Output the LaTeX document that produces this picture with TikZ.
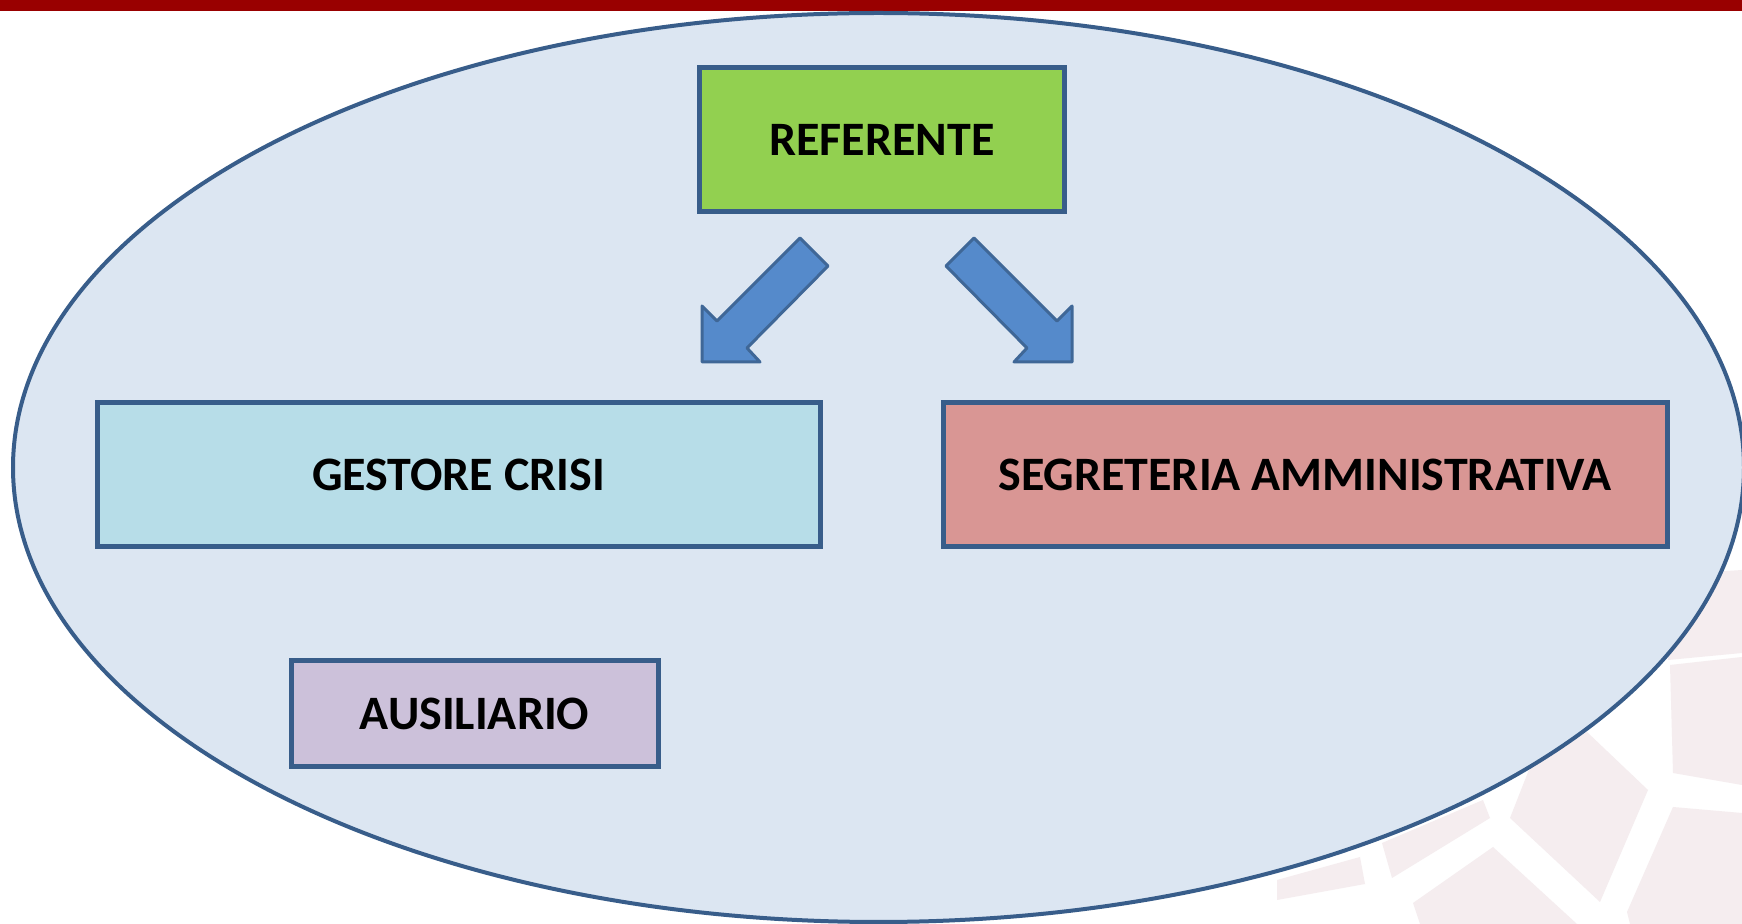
\documentclass[tikz,border=0pt]{standalone}
\usepackage{fontspec}
\setmainfont{Carlito}
\definecolor{barred}{HTML}{990000}
\definecolor{ellfill}{HTML}{DCE6F2}
\definecolor{edge}{HTML}{385D8A}
\definecolor{refgreen}{HTML}{92D050}
\definecolor{gestblue}{HTML}{B7DDE8}
\definecolor{segred}{HTML}{D99694}
\definecolor{auspurple}{HTML}{CCC1DA}
\definecolor{arrowfill}{HTML}{558ACB}
\definecolor{arrowedge}{HTML}{3F6797}
\definecolor{tile}{HTML}{F5EDEF}
\tikzset{
  rolebox/.style={draw=edge, line width=2.5pt, inner sep=0pt, align=center,
    font=\fontsize{24}{28}\selectfont\bfseries, text=black},
  blockarrow/.style={fill=arrowfill, draw=arrowedge, line width=1.5pt, line join=round},
  wmtile/.style={fill=tile, draw=none}
}
\begin{document}
\begin{tikzpicture}[x=0.5pt,y=-0.5pt]
\useasboundingbox (0,0) rectangle (1742,924);
\clip (0,0) rectangle (1742,924);
\fill[white] (0,0) rectangle (1742,924);
% watermark tiles
\fill[wmtile] (1665,575) -- (1742,570) -- (1742,653) -- (1668,660) -- cycle;
\fill[wmtile] (1670,665) -- (1742,657) -- (1742,785) -- (1673,773) -- cycle;
\fill[wmtile] (1530,767) -- (1587,732) -- (1648,790) -- (1600,902) -- (1510,818) -- cycle;
\fill[wmtile] (1673,807) -- (1742,813) -- (1742,924) -- (1630,924) -- (1627,912) -- cycle;
\fill[wmtile] (1413,903) -- (1493,847) -- (1577,924) -- (1420,924) -- cycle;
\fill[wmtile] (1382,843) -- (1483,800) -- (1490,818) -- (1392,878) -- cycle;
\fill[wmtile] (1277,880) -- (1360,857) -- (1365,884) -- (1277,900) -- cycle;
% top bar
\fill[barred] (0,0) rectangle (1742,11);
% ellipse
\draw[fill=ellfill, draw=edge, line width=2pt] (878.5,467.5) ellipse [x radius=865.5, y radius=454.5];
% boxes
\node[rolebox, fill=refgreen, minimum width=182.5pt, minimum height=72pt] (ref) at (882,139.5) {\raisebox{-1pt}{REFERENTE}};
\node[rolebox, fill=gestblue, minimum width=361.5pt, minimum height=72pt] (gest) at (458.5,475) {\raisebox{-1pt}{GESTORE CRISI}};
\node[rolebox, fill=segred, minimum width=362pt, minimum height=72pt] (seg) at (1305,475) {\raisebox{-1pt}{SEGRETERIA AMMINISTRATIVA}};
\node[rolebox, fill=auspurple, minimum width=183.5pt, minimum height=53pt] (aus) at (474.5,714) {\raisebox{-1pt}{AUSILIARIO}};
% block arrows
\draw[blockarrow] (800,238) -- (828,266) -- (747,348) -- (760,362) -- (702,362) -- (702,306) -- (717,321) -- cycle;
\draw[blockarrow] (974,238) -- (946,266) -- (1027,348) -- (1014,362) -- (1072,362) -- (1072,306) -- (1057,321) -- cycle;
\end{tikzpicture}
\end{document}
